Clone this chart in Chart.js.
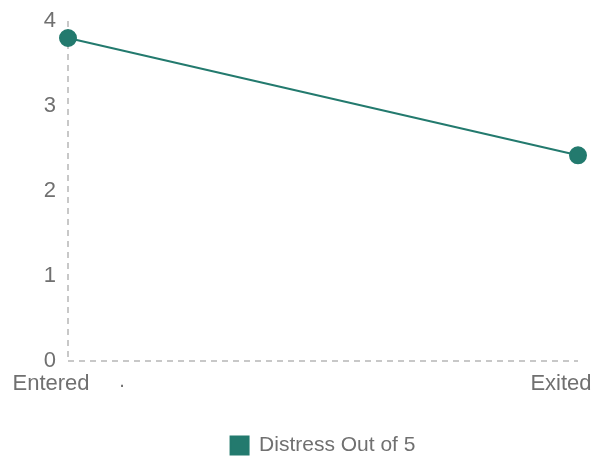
<!DOCTYPE html>
<html>
<head>
<meta charset="utf-8">
<script src="https://cdn.jsdelivr.net/npm/chart.js@4/dist/chart.umd.min.js"></script>
<style>
  html, body { margin: 0; padding: 0; background: #fff; }
  #wrap { width: 595px; height: 457px; }
</style>
</head>
<body>
<div id="wrap"><canvas id="myChart"></canvas></div>
<script>
let stages = ["Entered", "Exited"],
  distress = [3.8, 2.42],
  seriesName = "Distress Out of 5",
  yTicks = [0, 1, 2, 3, 4],
  teal = "#237a6e",
  grey = "#707070",
  axisGrey = "#c8c8c8";

Chart.defaults.font.family = "'Liberation Sans', Arial, sans-serif";
Chart.defaults.font.size = 22;
Chart.defaults.color = grey;

// stray dot under the x axis in the original
const strayDot = {
  id: "strayDot",
  afterDraw(chart) {
    const c = chart.ctx;
    c.save();
    c.fillStyle = grey;
    c.font = "20px 'Liberation Sans', Arial, sans-serif";
    c.textAlign = "center";
    c.textBaseline = "middle";
    c.fillText(".", chart.chartArea.left + 54, chart.chartArea.bottom + 20);
    c.restore();
  },
};

// only the zero lines are drawn, dashed, as the axes
function onlyFirst(context) {
  return context.index === 0 ? axisGrey : "rgba(0,0,0,0)";
}

var ctx = document.getElementById("myChart").getContext("2d");
var myChart = new Chart(ctx, {
  type: "line",
  data: {
    labels: stages,
    datasets: [
      {
        label: seriesName,
        data: distress,
        borderColor: teal,
        backgroundColor: teal,
        borderWidth: 2,
        pointRadius: 8,
        pointHoverRadius: 8,
        pointBackgroundColor: teal,
        pointBorderColor: teal,
        fill: false,
        tension: 0,
      },
    ],
  },
  options: {
    responsive: true,
    maintainAspectRatio: false,
    animation: false,
    layout: { padding: { top: 21, right: 17, bottom: -9, left: 0 }, autoPadding: false },
    plugins: {
      tooltip: { enabled: false },
      legend: {
        position: "bottom",
        fullSize: false,
        labels: {
          boxWidth: 18,
          boxHeight: 18,
          padding: 10,
          color: grey,
          font: { size: 21 },
        },
      },
    },
    scales: {
      x: {
        grid: { display: true, drawTicks: false, color: onlyFirst, lineWidth: 2 },
        border: { display: false, dash: [6, 5] },
        ticks: { padding: 10, labelOffset: -17, color: grey, maxRotation: 0 },
        afterFit(s) {
          s.paddingLeft = 0;
          s.paddingRight = 0;
          s.height = 64;
        },
      },
      y: {
        min: 0,
        max: 4,
        grid: { display: true, drawTicks: false, color: onlyFirst, lineWidth: 2 },
        border: { display: false, dash: [6, 5] },
        afterBuildTicks(s) {
          s.ticks = yTicks.map((v) => ({ value: v }));
        },
        ticks: { padding: 12, color: grey },
        afterFit(s) {
          s.width = 68;
          s.paddingTop = 0;
          s.paddingBottom = 0;
        },
      },
    },
  },
  plugins: [strayDot],
});
</script>
</body>
</html>
